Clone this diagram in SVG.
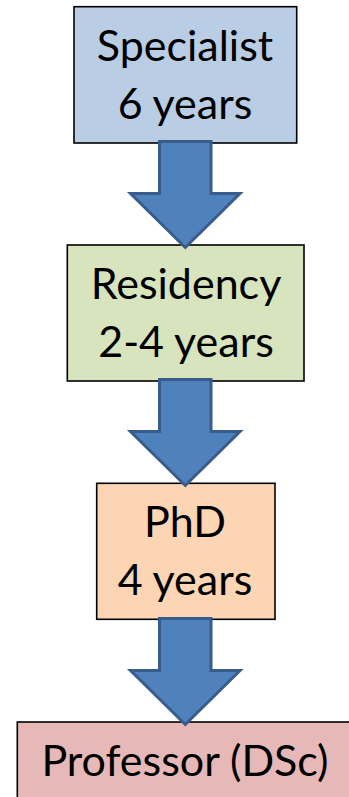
<svg xmlns="http://www.w3.org/2000/svg" width="349" height="797" viewBox="0 0 349 797">
<style>
.box{stroke:#000;stroke-width:1.6}
.t{font-family:Lato,"Open Sans","Liberation Sans",sans-serif;font-size:43px;fill:#000;text-anchor:middle}
.arr{fill:#4F81BD;stroke:#385D8A;stroke-width:3;stroke-linejoin:miter}
</style>
<defs>
<path id="arrow" d="M159.5,0 H211 V52 H240 L185.3,106 L130.5,52 H159.5 Z"/>
</defs>
<rect width="349" height="797" fill="#fff"/>
<g id="specialist">
<rect class="box" x="74" y="6.7" width="222.7" height="136.3" fill="#B9CDE5"/>
<text class="t" x="185" y="61">Specialist</text>
<text class="t" x="185" y="119">6 years</text>
</g>
<g id="residency">
<rect class="box" x="67.3" y="245" width="236.7" height="136" fill="#D7E4BD"/>
<text class="t" x="186" y="299">Residency</text>
<text class="t" x="186" y="357">2-4 years</text>
</g>
<g id="phd">
<rect class="box" x="96.7" y="483.3" width="178.3" height="136" fill="#FCD5B5"/>
<text class="t" x="185" y="537">PhD</text>
<text class="t" x="185" y="595">4 years</text>
</g>
<g id="professor">
<rect class="box" x="17.3" y="722" width="345" height="90" fill="#E6B9B8"/>
<text class="t" x="185" y="775.5">Professor (DSc)</text>
</g>
<g id="connectors">
<use href="#arrow" class="arr" transform="translate(0,141.5)"/>
<use href="#arrow" class="arr" transform="translate(0,379.5)"/>
<use href="#arrow" class="arr" transform="translate(0,618.5)"/>
</g>
</svg>
